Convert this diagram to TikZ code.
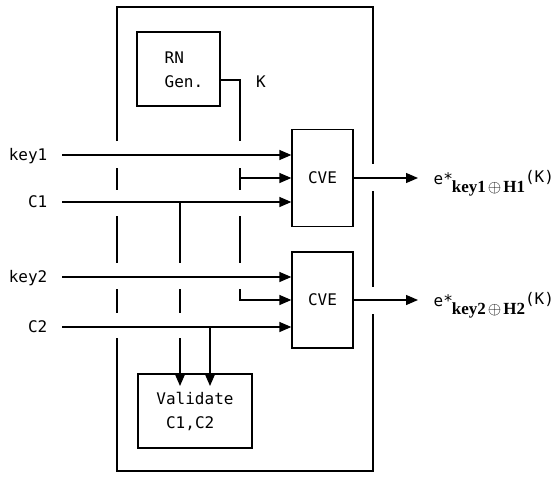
\documentclass[tikz,border=0pt]{standalone}
\usepackage{fontspec}
\setmonofont{DejaVu Sans Mono}
\newfontfamily\labserif{Liberation Serif}
\usetikzlibrary{arrows.meta}
\begin{document}
\begin{tikzpicture}[x=1pt,y=-1pt, line width=1.3pt,
  txt/.style={font=\ttfamily\fontsize{16}{24}\selectfont},
  box/.style={draw, rectangle, inner sep=0pt, txt, align=center},
  lab/.style={txt, inner sep=0pt, text height=11.7pt, text depth=0pt},
  arr/.style={-{Triangle[length=12pt,width=10pt]}},
  outlab/.style={inner sep=0pt, anchor=base west},
]
\useasboundingbox (0,0) rectangle (556,476);

% boxes
\node[box, minimum width=83pt, minimum height=74pt] (rn) at (178.5,69) {};
\node[txt, inner sep=0pt, align=left, anchor=west] (rnt) at (164,70) {RN\\Gen.};
\node[box, minimum width=61pt, minimum height=97pt] (cve1) at (322.5,178) {CVE};
\node[box, minimum width=61pt, minimum height=96pt] (cve2) at (322.5,300) {CVE};
\node[box, minimum width=114pt, minimum height=74pt, align=left] (val) at (195,411) {Validate\\\phantom{V}C1,C2};

% input labels
\node[lab, anchor=east] (k1) at (48,155) {key1};
\node[lab, anchor=east] (c1) at (48,202) {C1};
\node[lab, anchor=east] (k2) at (48,277) {key2};
\node[lab, anchor=east] (c2) at (48,327) {C2};
\node[lab] (klab) at (261,82) {K};

% output labels
\node[outlab] (o1) at (433,184) {\ttfamily\fontsize{16}{19}\selectfont e*\hspace{-1pt}\raisebox{-8pt}{\labserif\bfseries\fontsize{17}{19}\selectfont key1\hspace{2pt}$\oplus$\hspace{2pt}H1}\raisebox{2pt}{(K)}};
\node[outlab] (o2) at (433,306) {\ttfamily\fontsize{16}{19}\selectfont e*\hspace{-1pt}\raisebox{-8pt}{\labserif\bfseries\fontsize{17}{19}\selectfont key2\hspace{2pt}$\oplus$\hspace{2pt}H2}\raisebox{2pt}{(K)}};

% outer box with gaps
\draw (117,141) -- (117,7) -- (373,7) -- (373,164);
\draw (117,168) -- (117,190);
\draw (117,216) -- (117,263);
\draw (117,289) -- (117,313);
\draw (117,338) -- (117,471) -- (373,471) -- (373,314);
\draw (373,191) -- (373,287);

% input lines
\draw[arr, shorten <=14pt] (k1.east) -- (k1.east -| cve1.west);
\draw[arr, shorten <=14pt] (c1.east) -- (c1.east -| cve1.west);
\draw[arr, shorten <=14pt] (k2.east) -- (k2.east -| cve2.west);
\draw[arr, shorten <=14pt] (c2.east) -- (c2.east -| cve2.west);

% K line from RN Gen.
\coordinate (kc) at (240,80);
\draw (rn.east |- kc) -- (kc) -- (240,141);
\draw (240,168) -- (240,190);
\draw[arr] (240,178) -- (cve1.west);
\draw (240,216) -- (240,263);
\draw[arr] (240,289) -- (240,300) -- (cve2.west);

% C1 down to Validate
\draw (180,202) -- (180,263);
\draw (180,289) -- (180,313);
\draw[arr] (180,338) -- (180,386);
% C2 down to Validate
\draw[arr] (210,327) -- (210,386);

% outputs
\draw[arr, shorten >=15pt] (cve1.east) -- (cve1.east -| o1.west);
\draw[arr, shorten >=15pt] (cve2.east) -- (cve2.east -| o2.west);
\end{tikzpicture}
\end{document}
